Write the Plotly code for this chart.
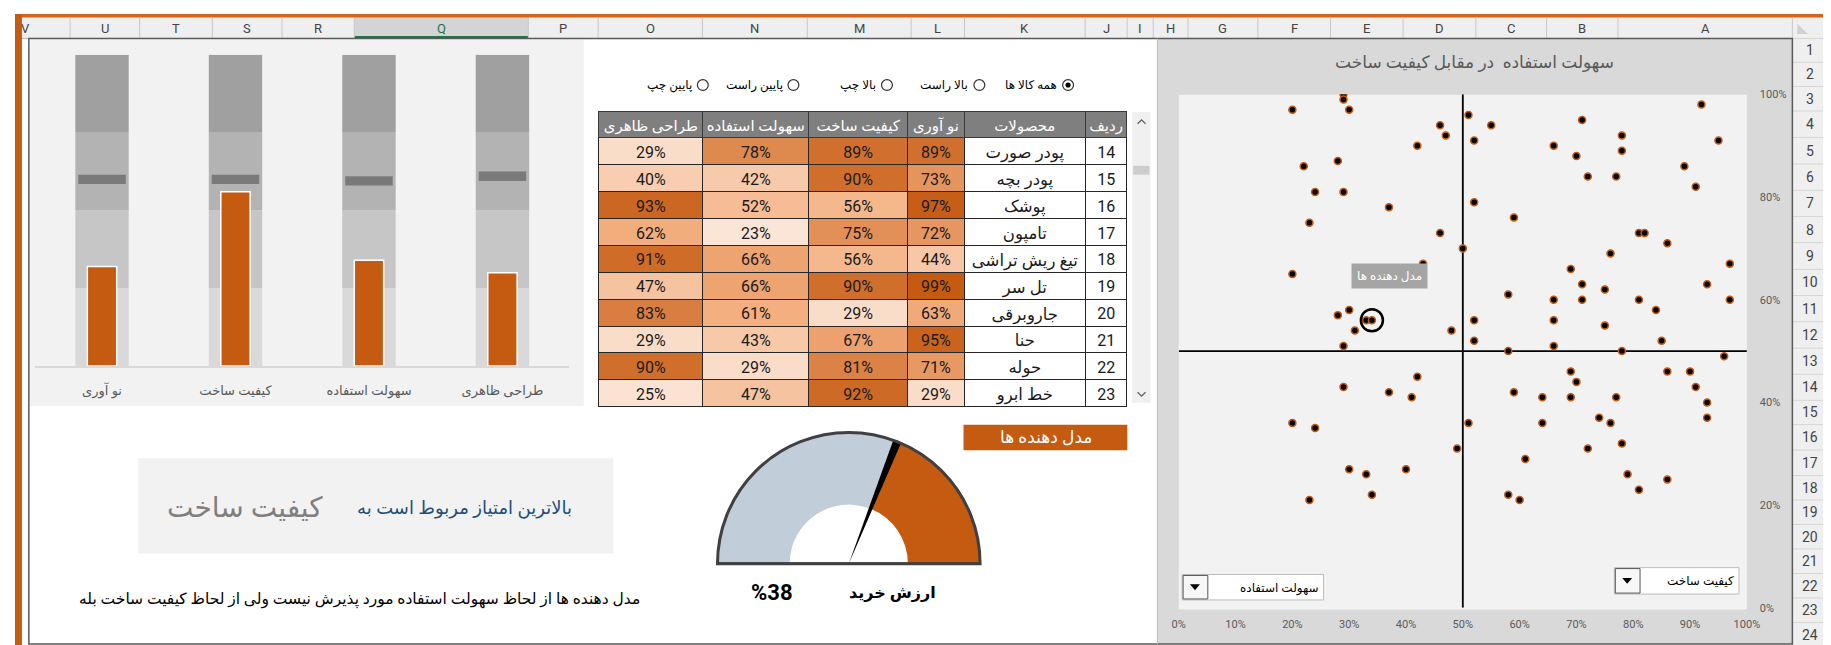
import plotly.graph_objects as go

W, H = 1831, 645
FONT = "Roboto, 'DejaVu Sans', sans-serif"

# ---------------- data ----------------
col_letters = ["V", "U", "T", "S", "R", "Q", "P", "O", "N", "M", "L", "K",
               "J", "I", "H", "G", "F", "E", "D", "C", "B", "A"]
active_col = "Q"
row_numbers = list(range(1, 25))

bullet_categories = ["نو آوری", "کیفیت ساخت", "سهولت استفاده", "طراحی ظاهری"]
bullet_values = [32, 56, 34, 30]
bullet_targets = [60, 60, 59.5, 61]
band_edges = [0, 25, 50, 75, 100]

table_headers = ["طراحی ظاهری", "سهولت استفاده", "کیفیت ساخت", "نو آوری", "محصولات", "ردیف"]
row_ids = [14, 15, 16, 17, 18, 19, 20, 21, 22, 23]
products = ["پودر صورت", "پودر بچه", "پوشک", "تامپون", "تیغ ریش تراشی",
            "تل سر", "جاروبرقی", "حنا", "حوله", "خط ابرو"]
innovation = [89, 73, 97, 72, 44, 99, 63, 95, 71, 29]
build_quality = [89, 90, 56, 75, 56, 90, 29, 67, 81, 92]
ease_of_use = [78, 42, 52, 23, 66, 66, 61, 43, 29, 47]
design = [29, 40, 93, 62, 91, 47, 83, 29, 90, 25]

radio_labels = ["همه کالا ها", "بالا راست", "بالا چپ", "پایین راست", "پایین چپ"]
selected_radio = "همه کالا ها"

scatter_title = "سهولت استفاده  در مقابل کیفیت ساخت"
scatter_x = [29, 29, 20, 30, 92, 51, 46, 55, 71, 47, 78, 52, 95, 42, 66, 70, 78, 28, 22, 89,
             72, 77, 91, 24, 29, 52, 37, 59, 23, 46, 81, 82, 86, 50, 76, 43, 97, 20, 69, 71,
             93, 75, 58, 66, 71, 81, 97, 30, 28, 33, 34, 84, 52, 66, 31, 48, 75, 52, 85, 29,
             66, 58, 78, 96, 69, 86, 90, 42, 70, 29, 91, 37, 59, 41, 64, 69, 77, 93, 74, 93,
             20, 51, 64, 76, 24, 78, 49, 72, 61, 30, 40, 33, 79, 86, 81, 34, 58, 23, 60]
scatter_y = [100, 99, 97, 97, 98, 96, 94, 94, 95, 92, 92, 91, 91, 90, 90, 88, 89, 87, 86, 86,
             84, 84, 82, 81, 81, 79, 78, 76, 75, 73, 73, 73, 71, 70, 69, 67, 67, 65, 66, 63,
             63, 62, 61, 60, 60, 60, 60, 58, 57, 56, 56, 58, 56, 56, 54, 54, 55, 52, 52, 51,
             51, 50, 50, 49, 46, 46, 46, 45, 44, 43, 43, 42, 42, 41, 41, 41, 41, 40, 37, 37,
             36, 36, 36, 36, 35, 32, 31, 31, 29, 27, 27, 26, 26, 25, 23, 22, 22, 21, 21]
highlight_x = [34]
highlight_y = [56]
highlight_label = "مدل دهنده ها"
quadrant_mid = 50
x_ticks = [0, 10, 20, 30, 40, 50, 60, 70, 80, 90, 100]
y_ticks = [0, 20, 40, 60, 80, 100]
dropdown_x_label = "کیفیت ساخت"
dropdown_y_label = "سهولت استفاده"

gauge_value = 38
gauge_label = "ارزش خرید"
gauge_title = "مدل دهنده ها"

best_prefix = "بالاترین امتیاز مربوط است به"
best_item = "کیفیت ساخت"
summary = "مدل دهنده ها از لحاظ سهولت استفاده مورد پذیرش نیست ولی از لحاظ کیفیت ساخت بله"

# ---------------- helpers ----------------
shapes, annotations = [], []


def PX(x):
    return x / W


def PY(y):
    return 1 - y / H


def rect(x0, y0, x1, y1, fill=None, line=None, lw=1.0, layer="below"):
    shapes.append(dict(type="rect", xref="paper", yref="paper",
                       x0=PX(x0), x1=PX(x1), y0=PY(y1), y1=PY(y0),
                       fillcolor=fill or "rgba(0,0,0,0)",
                       line=dict(color=line or "rgba(0,0,0,0)", width=lw if line else 0),
                       layer=layer))


def seg(x0, y0, x1, y1, color, lw=1.0, layer="below"):
    shapes.append(dict(type="line", xref="paper", yref="paper",
                       x0=PX(x0), x1=PX(x1), y0=PY(y0), y1=PY(y1),
                       line=dict(color=color, width=lw), layer=layer))


def poly(points, fill=None, line=None, lw=1.0, closed=True, layer="above"):
    d = "M " + " L ".join(f"{PX(x):.6f},{PY(y):.6f}" for x, y in points)
    if closed:
        d += " Z"
    shapes.append(dict(type="path", xref="paper", yref="paper", path=d,
                       fillcolor=fill or "rgba(0,0,0,0)",
                       line=dict(color=line or "rgba(0,0,0,0)", width=lw if line else 0),
                       layer=layer))


def circle(cx, cy, r, fill, line=None, lw=1.0):
    shapes.append(dict(type="circle", xref="paper", yref="paper",
                       x0=PX(cx - r), x1=PX(cx + r), y0=PY(cy + r), y1=PY(cy - r),
                       fillcolor=fill, line=dict(color=line or fill, width=lw if line else 0),
                       layer="above"))


def text(x, y, s, size=12, color="#000000", xa="center", ya="middle", family=FONT):
    annotations.append(dict(xref="paper", yref="paper", x=PX(x), y=PY(y), text=s,
                            showarrow=False, xanchor=xa, yanchor=ya,
                            font=dict(size=size, color=color, family=family)))


def nb(s):
    return str(s).replace(" ", "\u00a0")


def lerp_color(c0, c1, t):
    a = [int(c0[i:i + 2], 16) for i in (1, 3, 5)]
    b = [int(c1[i:i + 2], 16) for i in (1, 3, 5)]
    return "#" + "".join(f"{round(a[k] + (b[k] - a[k]) * t):02x}" for k in range(3))


all_vals = innovation + build_quality + ease_of_use + design
vmin, vmax, vmid = min(all_vals), max(all_vals), 60


def scale_color(v):
    if v <= vmid:
        return lerp_color("#fbe5d6", "#f4b183", (v - vmin) / (vmid - vmin))
    return lerp_color("#f4b183", "#c55a11", (v - vmid) / (vmax - vmid))


# ---------------- sheet chrome ----------------
col_edges = [-35, 55.7, 126, 199.5, 270, 343, 519, 589.6, 695, 801, 906, 960, 1082,
             1124.4, 1150.8, 1186, 1256.6, 1330, 1403.4, 1477, 1548.5, 1620.7, 1797]
row_edges = [25, 49.3, 74, 99, 126, 153, 180, 206.7, 233.3, 260.7, 287.3, 314, 341,
             367.7, 394.3, 419, 445, 471, 496, 521, 546, 571, 596, 621, 646]

rect(0, 0, W, 25, fill="#efefef")
qi = col_letters.index(active_col)
rect(col_edges[qi], 3, col_edges[qi + 1], 25, fill="#d4d4d4")
rect(col_edges[qi], 22.5, col_edges[qi + 1], 25, fill="#217346")
for e in col_edges[1:]:
    seg(e, 4, e, 25, "#c8c8c8", 1)
for i, L in enumerate(col_letters):
    cx = (col_edges[i] + col_edges[i + 1]) / 2
    text(cx, 14.5, L, 13, "#217346" if L == active_col else "#444444", family="Roboto, sans-serif")
seg(0, 25, W, 25, "#bdbdbd", 1)

rect(1797, 25, W, H, fill="#efefef")
for e in row_edges[1:-1]:
    seg(1797, e, W, e, "#d6d6d6", 1)
for i, n in enumerate(row_numbers):
    text(1815, (row_edges[i] + row_edges[i + 1]) / 2, str(n), 14, "#444444", family="Roboto, sans-serif")
poly([(1802, 10), (1802, 20.5), (1812.5, 20.5)], fill="#d0d0d0", layer="below")

rect(0, 0, W, 3.5, fill="#d4651b")
rect(0, 0, 7, H, fill="#c55a11")

# ---------------- dashboard backgrounds ----------------
rect(1155, 25, 1797, 643, fill="#d9d9d9")
rect(15, 26, 575, 400, fill="#f2f2f2")
rect(1176.6, 82.3, 1751, 607.7, fill="#f2f2f2")
rect(124.6, 453.3, 605, 550.7, fill="#f2f2f2")
rect(14, 25, 1797, 643, line="#595959", lw=1.5)
seg(1155, 25, 1155, 643, "#bfbfbf", 1)

# ---------------- radio buttons ----------------
radio_cx = [1064.7, 975, 881.6, 787, 695.4]
for lab, cx in zip(radio_labels, radio_cx):
    circle(cx, 72.5, 5.5, "#ffffff", "#333333", 1.2)
    if lab == selected_radio:
        circle(cx, 72.5, 2.6, "#000000")
    text(cx - 9, 72.5, lab, 12, "#000000", xa="right")

# ---------------- table scrollbar ----------------
rect(1129.5, 100, 1148, 396.7, fill="#f0f0f0", layer="above")
rect(1130.5, 155, 1147, 164, fill="#cdcdcd", layer="above")
poly([(1135, 112), (1139, 108), (1143, 112)], line="#606060", lw=1.3, closed=False)
poly([(1135, 386), (1139, 390), (1143, 386)], line="#606060", lw=1.3, closed=False)

# ---------------- bullet chart ----------------
fig = go.Figure()
band_colors = ["#d9d9d9", "#c6c6c6", "#b3b3b3", "#a0a0a0"]
for k in range(len(band_edges) - 1):
    lo, hi = band_edges[k], band_edges[k + 1]
    fig.add_trace(go.Bar(x=bullet_categories, y=[hi - lo] * 4, base=[lo] * 4, width=0.4,
                         marker=dict(color=band_colors[k], line=dict(width=0)),
                         xaxis="x", yaxis="y", hoverinfo="skip"))
fig.add_trace(go.Bar(x=bullet_categories, y=[3] * 4, base=[t - 1.5 for t in bullet_targets],
                     width=0.356, marker=dict(color="#7a7a7a", line=dict(width=0)),
                     xaxis="x", yaxis="y"))
fig.add_trace(go.Bar(x=bullet_categories, y=bullet_values, width=0.22,
                     marker=dict(color="#c55a11", line=dict(color="#ffffff", width=1.5)),
                     xaxis="x", yaxis="y"))

# ---------------- table ----------------
def pct(vals):
    return [f"{v}%" for v in vals]


value_cols = [design, ease_of_use, build_quality, innovation]
fills = [[scale_color(v) for v in col] for col in value_cols] + [["#ffffff"] * 10, ["#ffffff"] * 10]
fig.add_trace(go.Table(
    domain=dict(x=[PX(590.4), PX(1124.6)], y=[PY(402), PY(100)]),
    columnwidth=[105, 107.3, 99.9, 57.4, 122.5, 42.1],
    header=dict(values=[nb(h) for h in table_headers], fill_color="#7f7f7f", height=26,
                align="center", line=dict(color="#3a3a3a", width=1),
                font=dict(color="#ffffff", size=15, family=FONT)),
    cells=dict(values=[pct(c) for c in value_cols] + [[nb(p) for p in products], row_ids],
               fill_color=fills, height=26.87, align="center",
               line=dict(color="#262626", width=1),
               font=dict(color="#1a1a1a", size=[16, 16, 16, 16, 16.5, 16], family=FONT)),
))

# ---------------- scatter ----------------
fig.add_trace(go.Scatter(x=scatter_x, y=scatter_y, mode="markers", xaxis="x2", yaxis="y2",
                         marker=dict(size=7, color="#000000", line=dict(color="#c55a11", width=1.5))))
fig.add_trace(go.Scatter(x=highlight_x, y=highlight_y, mode="markers", xaxis="x2", yaxis="y2",
                         marker=dict(symbol="circle-open", size=22, color="#000000",
                                     line=dict(width=2.5, color="#000000"))))
for s in [dict(x0=quadrant_mid, x1=quadrant_mid, y0=0, y1=100),
          dict(x0=0, x1=100, y0=quadrant_mid, y1=quadrant_mid)]:
    shapes.append(dict(type="line", xref="x2", yref="y2", line=dict(color="#000000", width=1.8),
                       layer="below", **s))
annotations.append(dict(xref="x2", yref="y2", x=highlight_x[0], y=highlight_y[0], xshift=18, yshift=44,
                        text=highlight_label, showarrow=False, bgcolor="#a5a5a5", borderpad=5,
                        font=dict(size=12, color="#ffffff", family=FONT)))
text(1476, 49, scatter_title, 17, "#595959")

# dropdowns
rect(1180, 572, 1323, 598, fill="#ffffff", line="#bcbcbc", lw=1, layer="above")
rect(1181, 573, 1206, 597, fill="#f7f7f7", line="#555555", lw=1, layer="above")
poly([(1188, 582), (1198, 582), (1193, 588)], fill="#000000")
text(1320, 586, dropdown_y_label, 12, "#000000", xa="right")
rect(1617, 565, 1743, 592, fill="#ffffff", line="#bcbcbc", lw=1, layer="above")
rect(1618, 566, 1643, 591, fill="#f7f7f7", line="#555555", lw=1, layer="above")
poly([(1625, 575.5), (1635, 575.5), (1630, 581.5)], fill="#000000")
text(1740, 579, dropdown_x_label, 12, "#000000", xa="right")

# ---------------- gauge ----------------
hole = 0.45
split = gauge_value * 180 / 100
fig.add_trace(go.Barpolar(r=[1 - hole, 1 - hole], base=[hole, hole],
                          theta=[split / 2, (split + 180) / 2], width=[split, 180 - split],
                          marker=dict(color=["#c55a11", "#c1cdd9"], line=dict(width=0)),
                          subplot="polar"))
fig.add_trace(go.Barpolar(r=[1], base=[0], theta=[split], width=[3.6],
                          marker=dict(color="#000000", line=dict(width=0)), subplot="polar"))
fig.add_trace(go.Scatterpolar(r=[1, 0, 1], theta=[0, 0, 180], mode="lines",
                              line=dict(color="#404040", width=3), subplot="polar"))
rect(959, 419.3, 1124.6, 445.3, fill="#c55a11")
text(1042, 432, gauge_title, 17, "#ffffff")
text(765, 590, f"<b>%{gauge_value}</b>", 22, "#000000")
text(887, 590, f"<b>{gauge_label}</b>", 16, "#000000")

# ---------------- text box ----------------
text(454.7, 504, best_prefix, 18, "#1f4e79")
text(233, 504, best_item, 28, "#7f7f7f")
text(634, 598, summary, 15.5, "#000000", xa="right")

# ---------------- layout ----------------
fig.update_layout(
    width=W, height=H, margin=dict(l=0, r=0, t=0, b=0),
    paper_bgcolor="#ffffff", plot_bgcolor="rgba(0,0,0,0)",
    showlegend=False, barmode="overlay", font=dict(family=FONT),
    xaxis=dict(domain=[PX(20.5), PX(560.3)], anchor="y", type="category", range=[-0.5, 3.5],
               showline=True, linecolor="#d9d9d9", linewidth=1.5, ticks="", showgrid=False,
               zeroline=False, tickfont=dict(size=13, color="#595959"), ticklabelstandoff=12),
    yaxis=dict(domain=[PY(359.3), PY(41.7)], anchor="x", range=[0, 100], visible=False),
    xaxis2=dict(domain=[PX(1176.6), PX(1751)], anchor="y2", range=[0, 100],
                tickvals=x_ticks, ticktext=[f"{v}%" for v in x_ticks], showgrid=False,
                zeroline=False, showline=False, ticks="", ticklabelstandoff=8,
                tickfont=dict(size=11, color="#595959")),
    yaxis2=dict(domain=[PY(606), PY(82)], anchor="x2", side="right", range=[0, 100],
                tickvals=y_ticks, ticktext=[f"{v}%" for v in y_ticks], showgrid=False,
                zeroline=False, showline=False, ticks="", ticklabelstandoff=12,
                tickfont=dict(size=11, color="#595959")),
    polar=dict(domain=dict(x=[PX(709), PX(977)], y=[PY(561), PY(427)]), sector=[0, 180],
               hole=0, bgcolor="rgba(0,0,0,0)", barmode="overlay",
               radialaxis=dict(visible=False, range=[0, 1]),
               angularaxis=dict(rotation=0, direction="counterclockwise", showline=True,
                                linecolor="#404040", linewidth=3, showgrid=False,
                                showticklabels=False, ticks="")),
    shapes=shapes, annotations=annotations,
)

fig.write_html("out.html")
